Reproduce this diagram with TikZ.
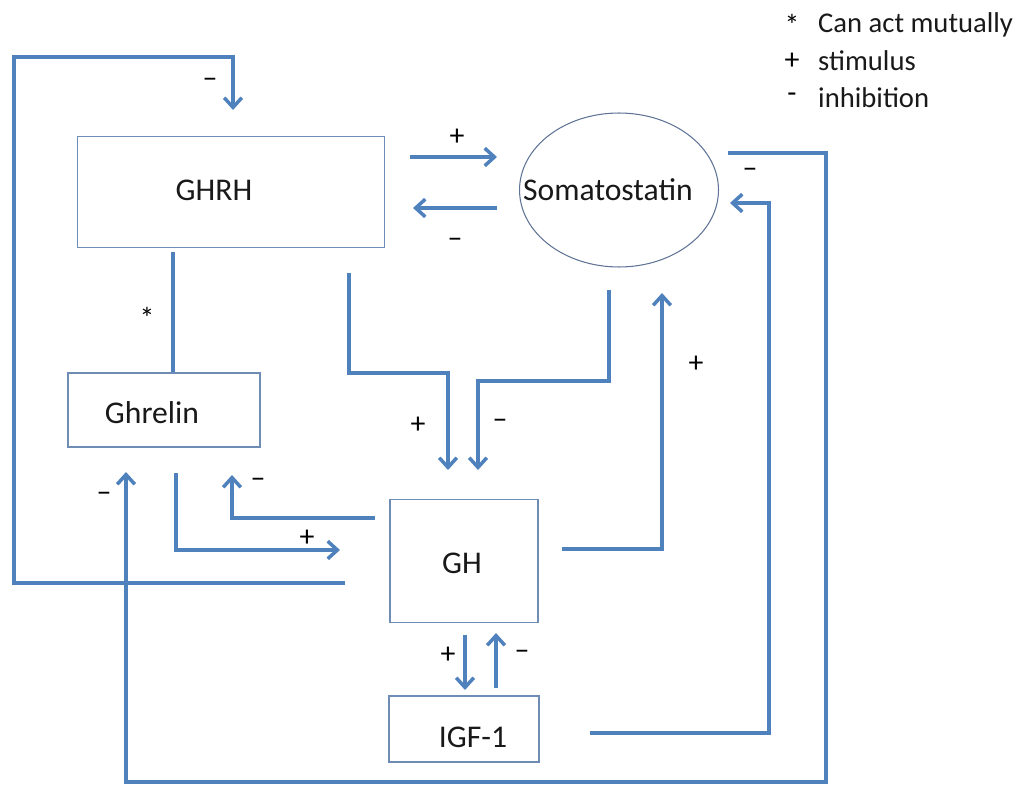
\documentclass[tikz,border=0pt]{standalone}
\usepackage{fontspec}
\setmainfont{Carlito}
\usepackage{tikz}
\usetikzlibrary{arrows.meta,positioning,shapes.geometric}
\definecolor{linkblue}{RGB}{79,129,189}
\definecolor{boxblue}{RGB}{110,140,180}
\definecolor{ovalgrey}{RGB}{95,115,150}

\begin{document}
\begin{tikzpicture}[x=0.02cm,y=-0.02cm,
  box/.style={draw=boxblue, line width=0.9pt, inner sep=0pt},
  txt/.style={font=\fontsize{18}{20}\selectfont, text=black!90},
  link/.style={linkblue, line width=2.1pt},
  conn/.style={link, -{Straight Barb[length=5.5pt,width=10pt,line width=2pt]}},
  sign/.style={font=\fontsize{17}{17}\selectfont},
  legend/.style={anchor=west, font=\fontsize{16.3}{18}\selectfont, text=black!90}]
\useasboundingbox (0,0) rectangle (1020,787);

\node[box, minimum width=6.14cm, minimum height=2.22cm] (ghrh) at (231,192) {};
\node[box, ellipse, draw=ovalgrey, line width=0.6pt, minimum width=3.98cm, minimum height=3.08cm] (soma) at (619,190) {};
\node[box, minimum width=3.84cm, minimum height=1.48cm] (ghrelin) at (164,410) {};
\node[box, minimum width=2.96cm, minimum height=2.46cm] (gh) at (464,561) {};
\node[box, minimum width=3.0cm, minimum height=1.32cm] (igf) [below=1.44cm of gh] {};

\node[txt] (ghrhtxt) at ([shift={(-17,-2)}]ghrh) {GHRH};
\node[txt] (somatxt) at ([shift={(-11,0)}]soma) {Somatostatin};
\node[txt] (ghrelintxt) at ([shift={(-12,3)}]ghrelin) {Ghrelin};
\node[txt] (ghtxt) at ([shift={(-2,2)}]gh) {GH};
\node[txt] (igftxt) at ([shift={(9,8)}]igf) {IGF-1};

% legend
\node[legend] (leg1) at (812,25) {Can act mutually};
\node[legend] (leg2) at (812,61) {stimulus};
\node[legend] (leg3) at (812,98) {inhibition};
\node[sign] at (792,25) {*};
\node[sign] at (792,61) {+};
\node[sign] at (792,98) {-};

% free ends of the connectors
\coordinate (a1) at (345,583); \coordinate (a2) at (233,110);
\coordinate (b1) at (410,157); \coordinate (b2) at (497,157);
\coordinate (c1) at (497,208); \coordinate (c2) at (413,208);
\coordinate (d1) at (173,252);
\coordinate (e1) at (349,273); \coordinate (e2) at (448,470);
\coordinate (f1) at (609,290); \coordinate (f2) at (478,470);
\coordinate (g1) at (375,518); \coordinate (g2) at (232,475);
\coordinate (h1) at (176,473); \coordinate (h2) at (340,550);
\coordinate (i1) at (562,549); \coordinate (i2) at (662,293);
\coordinate (j1) at (465,635); \coordinate (j2) at (465,690);
\coordinate (k1) at (496,688); \coordinate (k2) at (496,633);
\coordinate (l1) at (590,733); \coordinate (l2) at (730,203);
\coordinate (m1) at (728,153); \coordinate (m2) at (126,472);

\draw[conn] (a1) -| (14,57) -| (a2);
\draw[conn] (b1) -- (b2);
\draw[conn] (c1) -- (c2);
\draw[link] (d1) -- (d1 |- ghrelin.north);
\draw[conn] (e1) -- (349,373) -| (e2);
\draw[conn] (f1) -- (609,381) -| (f2);
\draw[conn] (g1) -| (g2);
\draw[conn] (h1) |- (h2);
\draw[conn] (i1) -| (i2);
\draw[conn] (j1) -- (j2);
\draw[conn] (k1) -- (k2);
\draw[conn] (l1) -| (769,203) -- (l2);
\draw[conn] (m1) -| (826,782) -| (m2);

% signs
\node[sign] at (210,83) {\textendash};
\node[sign] at (457,137) {+};
\node[sign] at (455,243) {\textendash};
\node[sign] at (147,318) {*};
\node[sign] at (418,425) {+};
\node[sign] at (500,424) {\textendash};
\node[sign] at (258,483) {\textendash};
\node[sign] at (307,538) {+};
\node[sign] at (696,364) {+};
\node[sign] at (448,655) {+};
\node[sign] at (522,655) {\textendash};
\node[sign] at (750,173) {\textendash};
\node[sign] at (104,497) {\textendash};
\end{tikzpicture}
\end{document}
